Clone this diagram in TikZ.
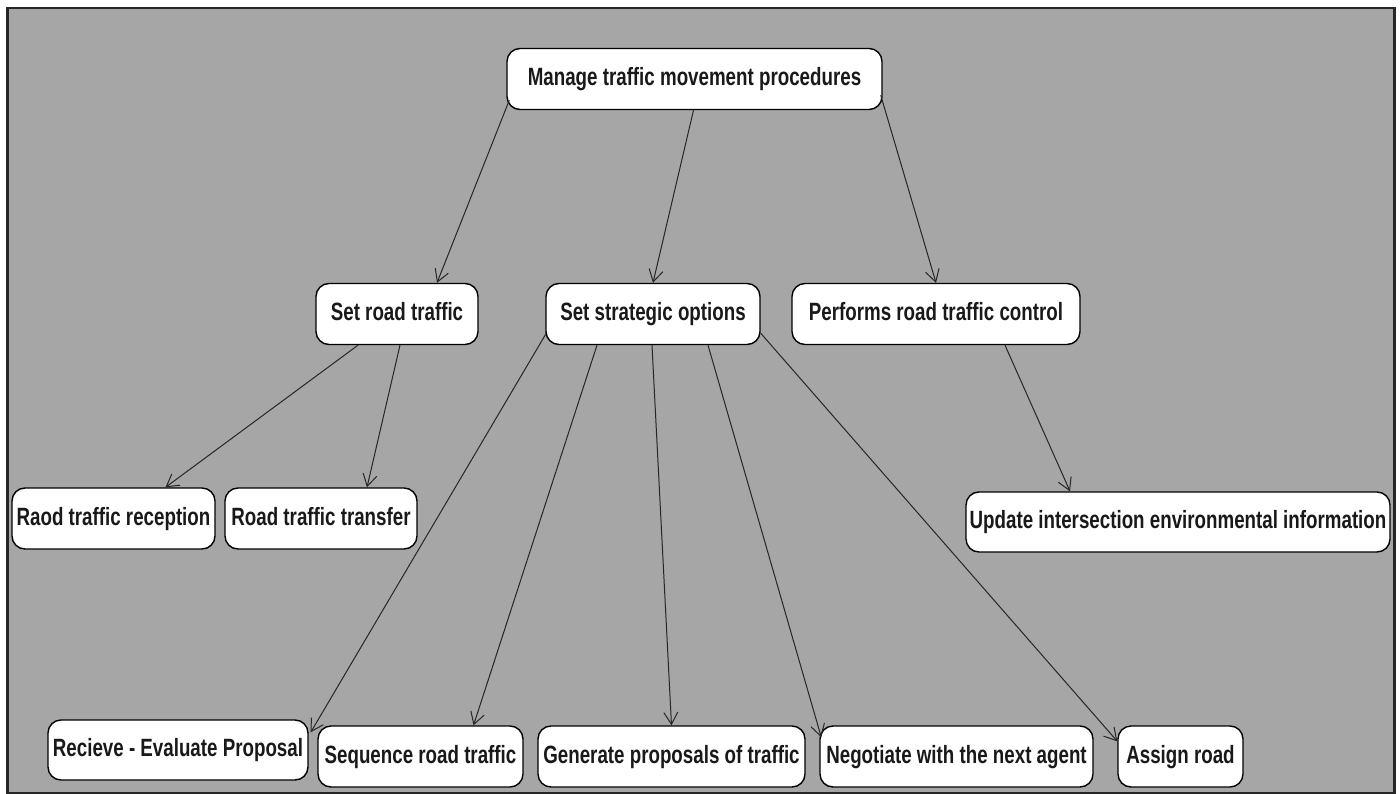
\documentclass[tikz,border=0pt]{standalone}
\usepackage{fontspec}
\setmainfont{Liberation Sans}[FakeStretch=0.75]
\usetikzlibrary{arrows.meta,calc}
\definecolor{panel}{HTML}{A6A6A6}
\definecolor{frameline}{HTML}{262626}
\begin{document}
\begin{tikzpicture}[x=1pt,y=-1pt,
  box/.style={draw=black, line width=1.4pt, fill=white, rounded corners=13pt,
    font=\fontsize{25}{29}\selectfont\bfseries, text=black!90,
    inner sep=0pt, text height=18pt, text depth=5pt, minimum height=61pt},
  link/.style={draw=black!85, line width=1pt,
    -{Straight Barb[length=12pt,width=14pt]}}]
\useasboundingbox (0,0) rectangle (1400,794);
\fill[white] (0,0) rectangle (1400,794);
\draw[fill=panel, draw=frameline, line width=2.5pt] (7.5,8) rectangle (1394.5,793);

% root
\node[box, minimum width=375pt] (top) at (694.5,79) {Manage traffic movement procedures};

% second level
\node[box, minimum width=162pt] (srt) at (397,314) {Set road traffic};
\node[box, minimum width=214pt] (sso) at (653,314) {Set strategic options};
\node[box, minimum width=288pt] (prc) at (936,314) {Performs road traffic control};

% third level
\node[box, minimum width=203pt] (raod) at (113.5,518.5) {Raod traffic reception};
\node[box, minimum width=192pt] (trans) at (321,518.5) {Road traffic transfer};
\node[box, minimum width=424pt, minimum height=60pt] (upd) at (1178,522) {Update intersection environmental information};

% bottom row
\node[box, minimum width=260pt, minimum height=60pt] (recv) at (178,750) {Recieve - Evaluate Proposal};
\node[box, minimum width=205pt] (seq) at (420.5,756.5) {Sequence road traffic};
\node[box, minimum width=267pt] (gen) at (671.5,756.5) {Generate proposals of traffic};
\node[box, minimum width=273pt] (neg) at (956.5,756.5) {Negotiate with the next agent};
\node[box, minimum width=125pt] (asg) at (1180.5,756.5) {Assign road};

% connectors
\draw[link] ($(top.south west)+(3,-10)$) -- ($(srt.north)+(40,0)$);
\draw[link] ($(top.south)+(-1,0)$) -- (sso.north);
\draw[link] ($(top.south east)+(-2,-15)$) -- (prc.north);

\draw[link] ($(srt.south)+(-39,0)$) -- ($(raod.north)+(52,0)$);
\draw[link] ($(srt.south)+(3,0)$) -- ($(trans.north)+(46,0)$);

\draw[link] ($(sso.south west)+(1,-12)$) -- ($(recv.north east)+(2,13)$);
\draw[link] ($(sso.south)+(-56,0)$) -- ($(seq.north)+(53,0)$);
\draw[link] ($(sso.south)+(-1,0)$) -- (gen.north);
\draw[link] ($(sso.south)+(55,0)$) -- ($(neg.north west)+(2,12)$);
\draw[link] ($(sso.south east)+(0,-12)$) -- ($(asg.north west)+(0,16)$);

\draw[link] ($(prc.south)+(69,0)$) -- ($(upd.north)+(-108,0)$);
\end{tikzpicture}
\end{document}
